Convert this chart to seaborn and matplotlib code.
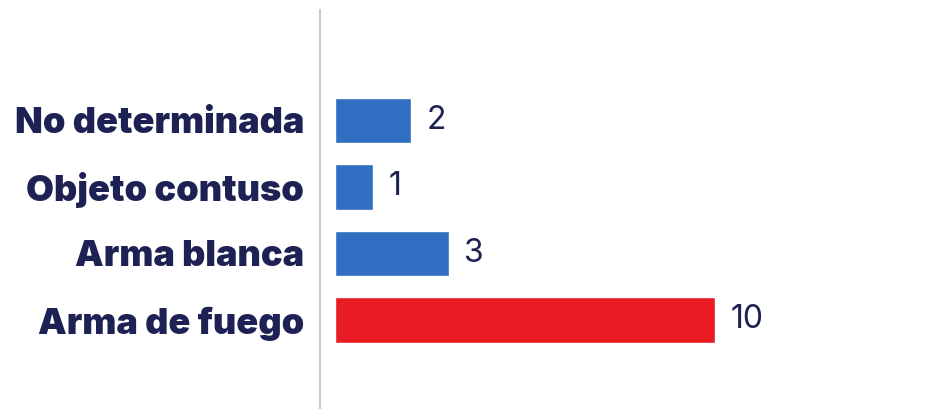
import matplotlib
matplotlib.use("Agg")
import matplotlib.pyplot as plt
import seaborn as sns
import pandas as pd

categories = ["No determinada", "Objeto contuso", "Arma blanca", "Arma de fuego"]
values = [2, 1, 3, 10]
bar_colors = ["#2f6ec0", "#2f6ec0", "#2f6ec0", "#e81c22"]

NAVY = "#1e2153"

sns.set_theme(style="white")
plt.rcParams["font.family"] = ["Inter", "DejaVu Sans"]

df = pd.DataFrame({"cat": categories, "val": values})

W, H = 925, 409
fig = plt.figure(figsize=(W / 100, H / 100), dpi=100)
ax = fig.add_axes([320 / W, 0, 1 - 320 / W, (409 - 10) / H])

sns.barplot(data=df, y="cat", x="val", hue="cat", palette=bar_colors,
            order=categories, hue_order=categories, legend=False,
            width=0.68, orient="h", ax=ax, saturation=1)

ax.set_xlim(-0.4, 15.53)
ax.set_ylim(4.34, -1.66)
ax.set_xlabel("")
ax.set_ylabel("")
ax.set_xticks([])
for s in ["top", "right", "bottom"]:
    ax.spines[s].set_visible(False)
ax.spines["left"].set_color("#c9c9c9")
ax.spines["left"].set_linewidth(1.5)

ax.tick_params(axis="y", length=0, pad=11.5)
for lab in ax.get_yticklabels():
    lab.set_fontweight(850)
    lab.set_fontsize(26)
    lab.set_color(NAVY)

for i, v in enumerate(values):
    ax.annotate(str(v), xy=(v, i), xytext=(11, 0), textcoords="offset points",
                ha="left", va="center", fontsize=23, color=NAVY)

fig.savefig("out.png", dpi=100)
